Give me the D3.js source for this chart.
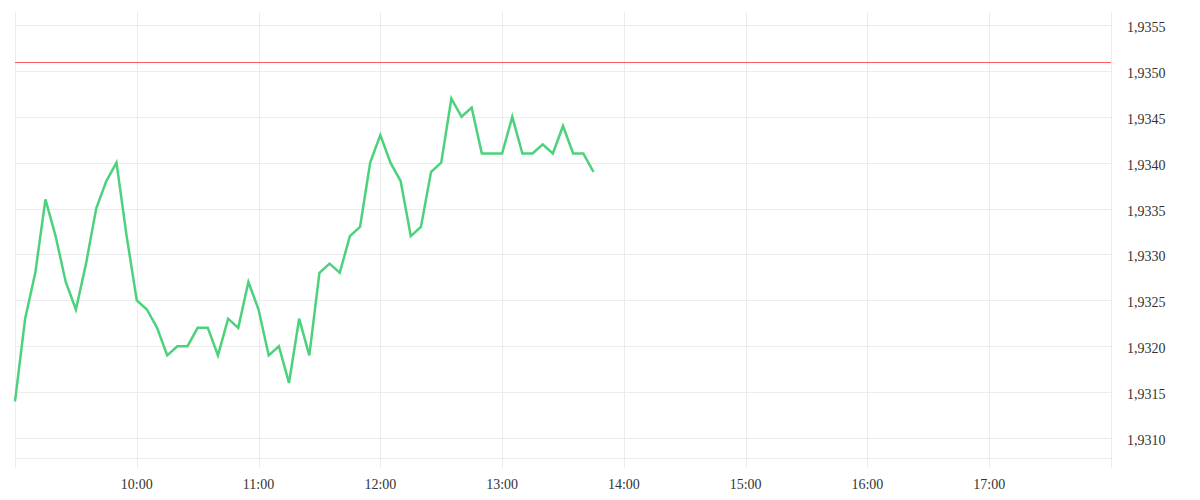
<!DOCTYPE html>
<html>
<head>
<meta charset="utf-8">
<script src="https://cdn.jsdelivr.net/npm/d3@7/dist/d3.min.js"></script>
<style>
  html, body { margin: 0; padding: 0; background: #fff; }
  svg { display: block; }
  text.lbl { font-family: "Liberation Serif", serif; font-size: 14px; fill: #333; }
</style>
</head>
<body>
<svg id="chart" width="1200" height="500"></svg>
<script>
const times = [
  "09:00","09:05","09:10","09:15","09:20","09:25","09:30","09:35","09:40","09:45","09:50","09:55",
  "10:00","10:05","10:10","10:15","10:20","10:25","10:30","10:35","10:40","10:45","10:50","10:55",
  "11:00","11:05","11:10","11:15","11:20","11:25","11:30","11:35","11:40","11:45","11:50","11:55",
  "12:00","12:05","12:10","12:15","12:20","12:25","12:30","12:35","12:40","12:45","12:50","12:55",
  "13:00","13:05","13:10","13:15","13:20","13:25","13:30","13:35","13:40","13:45"
];
const prices = [
  1.9314,1.9323,1.9328,1.9336,1.9332,1.9327,1.9324,1.9329,1.9335,1.9338,1.9340,1.9332,
  1.9325,1.9324,1.9322,1.9319,1.9320,1.9320,1.9322,1.9322,1.9319,1.9323,1.9322,1.9327,
  1.9324,1.9319,1.9320,1.9316,1.9323,1.9319,1.9328,1.9329,1.9328,1.9332,1.9333,1.9340,
  1.9343,1.9340,1.9338,1.9332,1.9333,1.9339,1.9340,1.9347,1.9345,1.9346,1.9341,1.9341,
  1.9341,1.9345,1.9341,1.9341,1.9342,1.9341,1.9344,1.9341,1.9341,1.9339
];
const referenceLevel = 1.9351;
const yTicks = [1.9310,1.9315,1.9320,1.9325,1.9330,1.9335,1.9340,1.9345,1.9350,1.9355];
const xTickLabels = ["09:00","10:00","11:00","12:00","13:00","14:00","15:00","16:00","17:00","18:00"];
const xDomain = ["09:00","18:00"];
const yDomain = [1.930782, 1.935642];

const parse = d3.timeParse("%H:%M");
const data = times.map((t, i) => ({ t: parse(t), v: prices[i] }));

const svg = d3.select("#chart");
const mLeft = 15, mRight = 1111, mTop = 12, mBottom = 458;

const x = d3.scaleTime().domain(xDomain.map(parse)).range([mLeft, mRight]);
const y = d3.scaleLinear().domain(yDomain).range([mBottom, mTop]);

const grid = "#ececec";

// horizontal gridlines
svg.append("g")
  .attr("transform", `translate(${mRight},0)`)
  .call(d3.axisLeft(y).tickValues(yTicks).tickSize(mRight - mLeft).tickFormat(""))
  .call(g => g.select(".domain").remove())
  .call(g => g.selectAll("line").attr("stroke", grid).attr("shape-rendering", "crispEdges"));

// bottom border
svg.append("line")
  .attr("x1", mLeft).attr("x2", mRight)
  .attr("y1", mBottom).attr("y2", mBottom)
  .attr("stroke", grid).attr("shape-rendering", "crispEdges");

// vertical gridlines (extend 10px below the plot as ticks)
const xTickDates = xTickLabels.map(parse);
svg.append("g")
  .attr("transform", `translate(0,${mBottom + 10})`)
  .call(d3.axisBottom(x).tickValues(xTickDates).tickSize(-(mBottom + 10 - mTop)).tickFormat(""))
  .call(g => g.select(".domain").remove())
  .call(g => g.selectAll("line").attr("stroke", grid).attr("shape-rendering", "crispEdges"));

// x labels
const fmtX = d3.timeFormat("%H:%M");
svg.append("g")
  .selectAll("text")
  .data(xTickDates.slice(1, -1))
  .join("text")
  .attr("class", "lbl")
  .attr("x", d => x(d))
  .attr("y", 489)
  .attr("text-anchor", "middle")
  .text(d => fmtX(d));

// y labels
const fmtY = v => d3.format(".4f")(v).replace(".", ",");
svg.append("g")
  .selectAll("text")
  .data(yTicks)
  .join("text")
  .attr("class", "lbl")
  .attr("x", 1127)
  .attr("y", d => y(d) + 7)
  .attr("text-anchor", "start")
  .text(d => fmtY(d));

// reference line
const yRef = Math.round(y(referenceLevel)) + 0.5;
svg.append("path")
  .attr("d", `M${mLeft},${yRef}H${mRight}`)
  .attr("fill", "none")
  .style("stroke", "rgb(255, 90, 95)")
  .style("stroke-width", "1px");

// price line
svg.append("path")
  .datum(data)
  .attr("fill", "none")
  .attr("stroke", "#4cd17c")
  .attr("stroke-width", 2.5)
  .attr("stroke-linejoin", "miter")
  .attr("d", d3.line().x(d => x(d.t)).y(d => y(d.v)));
</script>
</body>
</html>
